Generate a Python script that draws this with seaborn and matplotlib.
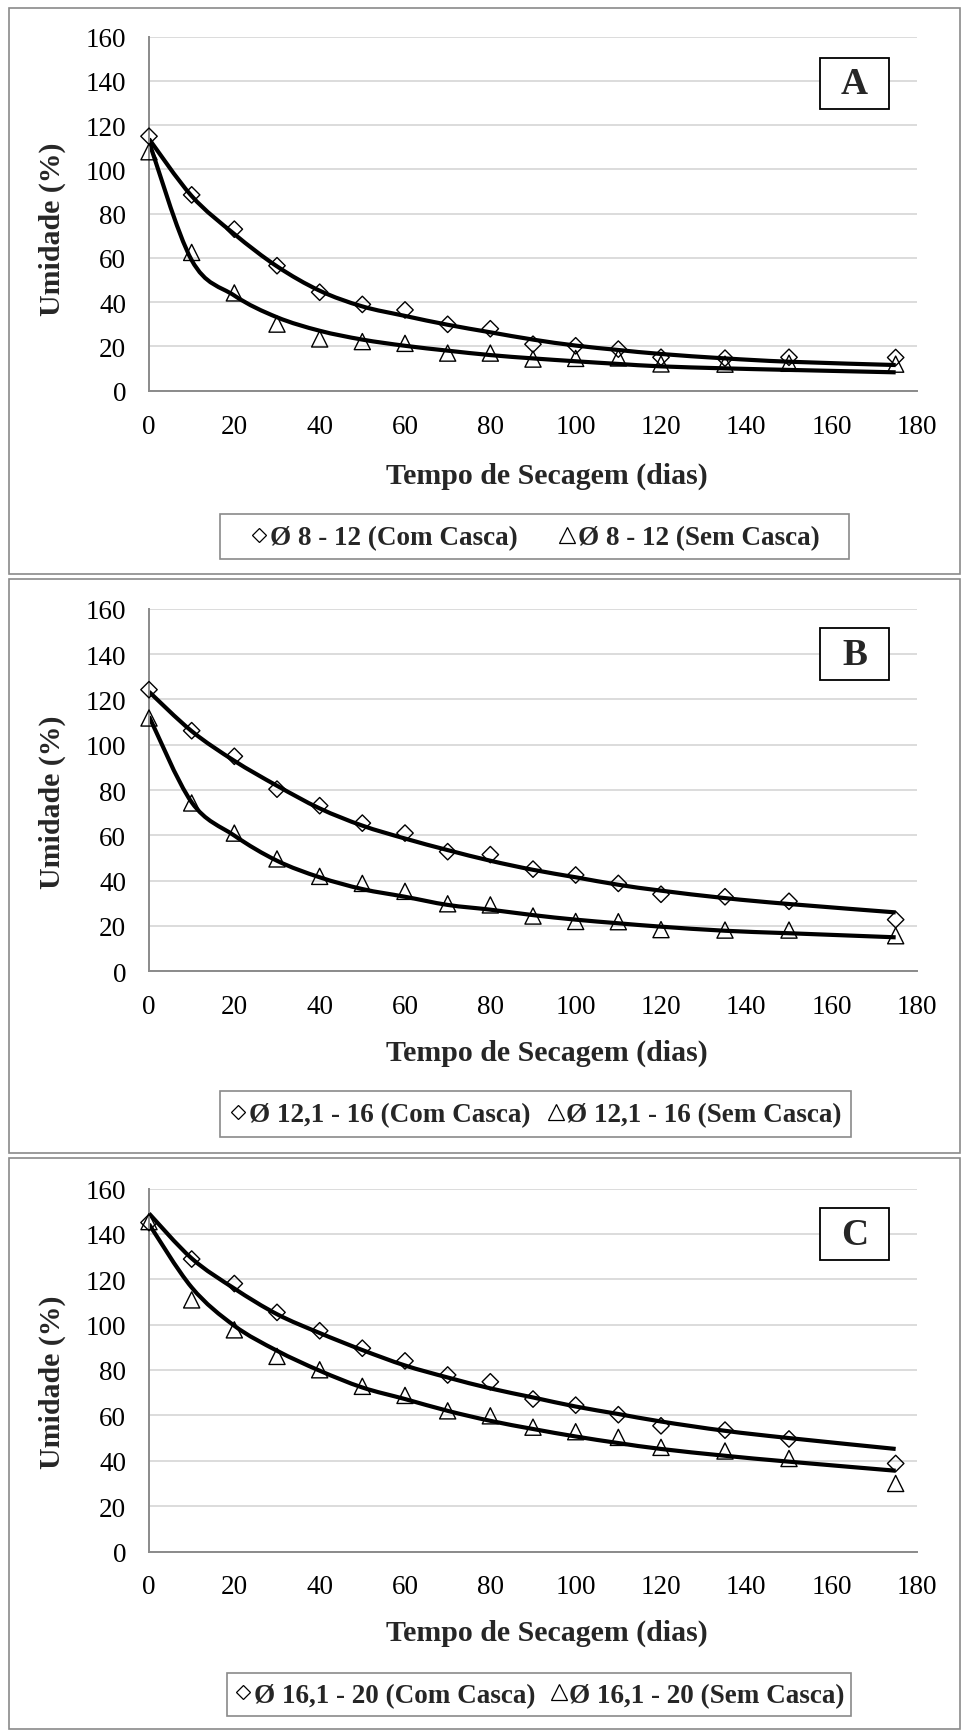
import numpy as np
import matplotlib
matplotlib.use("Agg")
import matplotlib.pyplot as plt
import seaborn as sns
from matplotlib.path import Path
from matplotlib.patches import PathPatch, Rectangle
from matplotlib.lines import Line2D

# Drying time (days)
dias = [0, 10, 20, 30, 40, 50, 60, 70, 80, 90, 100, 110, 120, 135, 150, 175]

# Panel A: diameter 8 - 12
a_com_obs = [115, 88.5, 73, 56.5, 44.5, 39, 36.5, 30, 28, 21, 20.3, 18.8, 15.1, 14.7, 15.1, 15]
a_sem_obs = [108, 62.5, 44.2, 30.1, 23.4, 22.2, 21.4, 17, 17, 14.3, 14.6, 14.8, 12.1, 12, 12.4, 12]
a_com_fit = [113.8, 88, 70.8, 56.2, 45.2, 38.1, 33.8, 29.8, 26.4, 23.1, 20.4, 18.4, 16.6, 14.6, 13.1, 11.6]
a_sem_fit = [112.5, 59, 43, 33.2, 27.1, 23.1, 20.3, 18.1, 16.1, 14.6, 13.3, 12.1, 11, 10.1, 9.4, 8.3]

# Panel B: diameter 12,1 - 16
b_com_obs = [124.3, 106.2, 94.9, 80.4, 73.1, 65.4, 61, 52.8, 51.5, 45.1, 42.5, 38.8, 34, 32.9, 30.9, 22.8]
b_sem_obs = [111.8, 74.3, 61, 49.6, 41.9, 38.8, 35.3, 29.8, 29.3, 24.4, 22, 21.9, 18.4, 18.2, 18.2, 15.7]
b_com_fit = [123.4, 106, 92.9, 81.9, 71.9, 64.3, 58.6, 53.5, 48.8, 44.8, 41.5, 38.2, 35.6, 32.3, 29.7, 26]
b_sem_fit = [112.5, 74.6, 59.9, 48.8, 41.5, 36.3, 32.9, 29.3, 27.2, 24.8, 22.8, 21.2, 19.7, 17.9, 16.8, 15]

# Panel C: diameter 16,1 - 20
c_com_obs = [145, 128.9, 118.1, 105.4, 97.3, 89.6, 84, 77.8, 74.8, 67.2, 64.5, 60.3, 55.4, 53.5, 49.6, 38.8]
c_sem_obs = [145.4, 110.9, 97.7, 86, 80.1, 72.8, 68.8, 62, 59.8, 54.8, 52.8, 50.3, 45.9, 44.3, 41, 30]
c_com_fit = [149, 129.2, 115.9, 104.6, 96.3, 88.8, 82, 76.7, 71.9, 67.9, 63.9, 60.6, 57.3, 53.2, 50, 45.2]
c_sem_fit = [144.3, 116.4, 99.5, 88.5, 79.7, 72.3, 67.2, 62, 57.6, 54, 50.7, 47.8, 45.2, 42.2, 39.6, 35.6]

paineis = ["A", "B", "C"]
legendas = [
    ("Ø 8 - 12 (Com Casca)", "Ø 8 - 12 (Sem Casca)"),
    ("Ø 12,1 - 16 (Com Casca)", "Ø 12,1 - 16 (Sem Casca)"),
    ("Ø 16,1 - 20 (Com Casca)", "Ø 16,1 - 20 (Sem Casca)"),
]
y_ticks = [0, 20, 40, 60, 80, 100, 120, 140, 160]
x_ticks = [0, 20, 40, 60, 80, 100, 120, 140, 160, 180]

sns.set_style("white")
plt.rcParams["font.family"] = ["Liberation Serif", "DejaVu Serif"]

W, H = 961, 1731
fig = plt.figure(figsize=(W / 100, H / 100), dpi=100)
fig.patch.set_facecolor("white")

GRAY = "#8a8a8a"

def fx(px):
    return px / W

def fy(py):
    return 1 - py / H

def fig_rect(x0, y0, x1, y1, **kw):
    r = Rectangle((fx(x0), fy(y1)), (x1 - x0) / W, (y1 - y0) / H,
                  transform=fig.transFigure, **kw)
    fig.add_artist(r)
    return r

def smooth_curve(ax, xs, ys, **kw):
    # Cubic Bezier through the fitted points (Catmull-Rom style smoothing)
    pts = np.column_stack([xs, ys]).astype(float)
    n = len(pts)
    verts = [pts[0]]
    codes = [Path.MOVETO]
    for i in range(n - 1):
        p0 = pts[i - 1] if i > 0 else pts[i]
        p1 = pts[i]
        p2 = pts[i + 1]
        p3 = pts[i + 2] if i + 2 < n else pts[i + 1]
        c1 = p1 + (p2 - p0) / 6.0
        c2 = p2 - (p3 - p1) / 6.0
        verts += [c1, c2, p2]
        codes += [Path.CURVE4] * 3
    patch = PathPatch(Path(verts, codes), facecolor="none", **kw)
    ax.add_patch(patch)

# layout in pixels
layout = [
    dict(frame=(9, 575), ax=(37.7, 391.7), xl=476.6, yl=229,
         leg=(219.6, 515, 848.5, 560), box=58.5, colsp=1.45),
    dict(frame=(580, 1154), ax=(609.8, 972.3), xl=1053.7, yl=802.7,
         leg=(219.6, 1092, 850.6, 1137.5), box=629, colsp=0.55),
    dict(frame=(1158.5, 1729.5), ax=(1189.5, 1552.5), xl=1633, yl=1382,
         leg=(227, 1673.7, 850.6, 1716.8), box=1209, colsp=0.5),
]

series = [
    (a_com_obs, a_sem_obs, a_com_fit, a_sem_fit),
    (b_com_obs, b_sem_obs, b_com_fit, b_sem_fit),
    (c_com_obs, c_sem_obs, c_com_fit, c_sem_fit),
]

AX_L, AX_R = 149, 917

for k in range(3):
    L = layout[k]
    com_obs, sem_obs, com_fit, sem_fit = series[k]

    # outer frame of the panel
    fig_rect(8.5, L["frame"][0], 959.5, L["frame"][1],
             fill=False, edgecolor=GRAY, lw=1.2, zorder=0)

    top, bot = L["ax"]
    ax = fig.add_axes([fx(AX_L), fy(bot), (AX_R - AX_L) / W, (bot - top) / H])
    ax.set_xlim(0, 180)
    ax.set_ylim(0, 160)
    ax.set_xticks(x_ticks)
    ax.set_yticks(y_ticks)
    ax.yaxis.grid(True, color="#dcdcdc", lw=1.4)
    ax.xaxis.grid(False)
    ax.set_axisbelow(True)
    for s in ["top", "right"]:
        ax.spines[s].set_visible(False)
    for s in ["left", "bottom"]:
        ax.spines[s].set_color(GRAY)
        ax.spines[s].set_linewidth(1.4)
    ax.tick_params(axis="both", direction="out", length=5, width=1.4,
                   color=GRAY, labelsize=19.5, labelcolor="black", pad=11.5)

    smooth_curve(ax, dias, com_fit, edgecolor="black", lw=3.0, zorder=2,
                 capstyle="butt")
    smooth_curve(ax, dias, sem_fit, edgecolor="black", lw=3.0, zorder=2,
                 capstyle="butt")

    sns.scatterplot(x=dias, y=com_obs, ax=ax, marker="D", s=70,
                    facecolor="none", edgecolor="black", linewidth=1.0,
                    clip_on=False, zorder=3, legend=False)
    sns.scatterplot(x=dias, y=sem_obs, ax=ax, marker="^", s=135,
                    facecolor="none", edgecolor="black", linewidth=1.0,
                    clip_on=False, zorder=3, legend=False)
    ax.set_xlabel("")
    ax.set_ylabel("")

    fig.text(fx(547), fy(L["xl"]), "Tempo de Secagem (dias)", ha="center",
             va="center", fontsize=21.5, fontweight="bold")
    fig.text(fx(52), fy(L["yl"]), "Umidade (%)", ha="center", va="center",
             rotation=90, fontsize=21.5, fontweight="bold")

    # panel letter
    b0 = L["box"]
    fig_rect(820, b0, 889, b0 + 51.5, facecolor="white", edgecolor="black",
             lw=1.3, zorder=5)
    fig.text(fx(854.5), fy(b0 + 26.5), paineis[k], ha="center", va="center",
             fontsize=27, fontweight="bold", zorder=6)

    # legend
    lx0, ly0, lx1, ly1 = L["leg"]
    fig_rect(lx0, ly0, lx1, ly1, facecolor="white", edgecolor=GRAY, lw=1.2,
             zorder=4)
    handles = [
        Line2D([], [], ls="none", marker="D", ms=7.5, mfc="none", mec="black", mew=0.9),
        Line2D([], [], ls="none", marker="^", ms=11.5, mfc="none", mec="black", mew=0.9),
    ]
    leg = fig.legend(handles, list(legendas[k]), loc="center", ncol=2,
                     bbox_to_anchor=(fx((lx0 + lx1) / 2), fy((ly0 + ly1) / 2 + 1)),
                     bbox_transform=fig.transFigure, frameon=False,
                     prop={"size": 19.5, "weight": "bold"}, handlelength=0.75,
                     handletextpad=0.02, columnspacing=L["colsp"],
                     borderpad=0, borderaxespad=0)
    leg.set_zorder(6)

fig.savefig("out.png", dpi=100, facecolor="white")
